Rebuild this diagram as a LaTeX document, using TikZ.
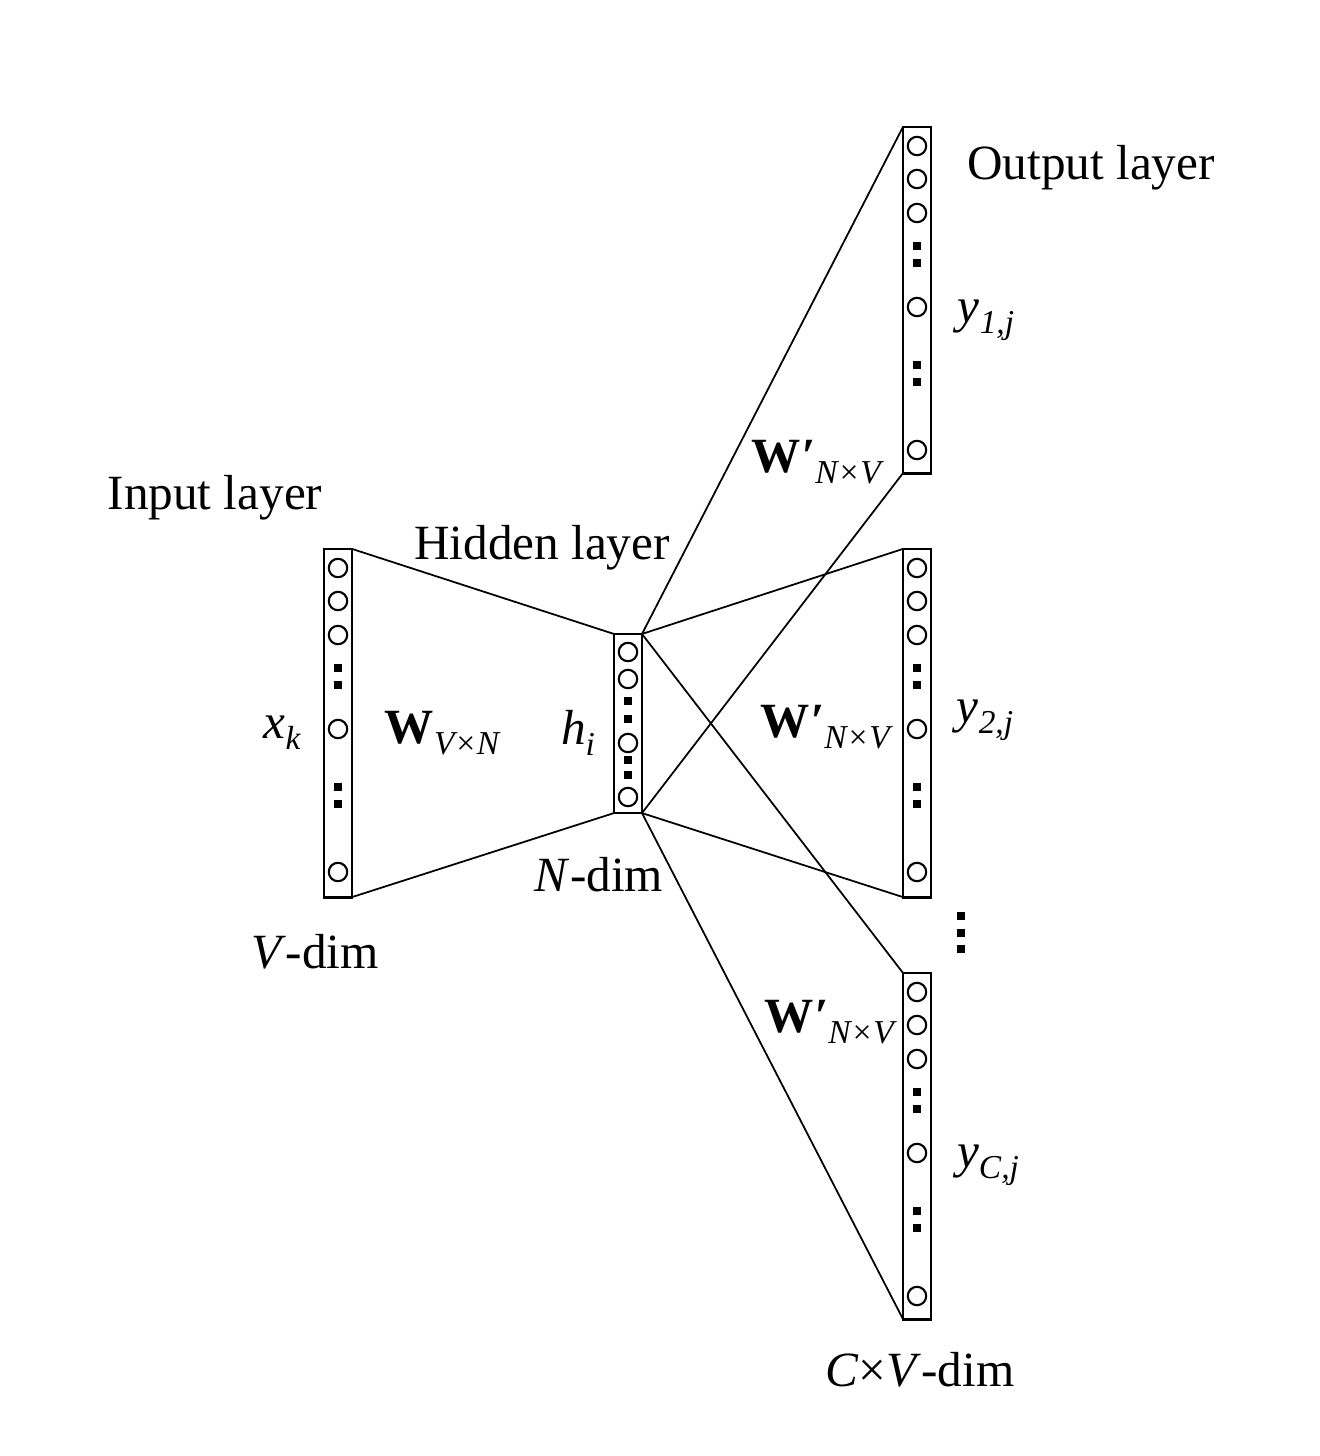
\documentclass[tikz,border=0pt]{standalone}
\usepackage{fontspec}
\setmainfont{Liberation Serif}
\newcommand\lowsub[1]{\raisebox{-0.5ex}{\fontsize{9.5pt}{11pt}\selectfont\itshape #1}}
\newcommand\wprime{\textbf{W\kern0.3pt\textit{′}}}
\begin{document}
\begin{tikzpicture}[x=0.01cm,y=-0.01cm,
  lbox/.style={draw,line width=0.8pt,minimum width=0.28cm,inner sep=0pt,outer sep=0pt},
  conn/.style={line width=0.5pt},
  unit/.style={line width=0.6pt},
  lbl/.style={inner sep=0pt,font=\fontsize{14pt}{17pt}\selectfont}]
\useasboundingbox (0,0) rectangle (1320,1456);
% column contents: x, top
\newcommand\longcol[2]{%
  \foreach \o in {19,52,86,180,323}{\draw[unit] (#1,#2+\o) circle[radius=0.092cm];}
  \foreach \o in {119,136,238,255}{\fill (#1-3.7,#2+\o-3.7) rectangle (#1+3.7,#2+\o+3.7);}
}
% layer boxes
\node[lbox,minimum height=3.48cm] (in) at (338,723) {};
\node[lbox,minimum height=1.79cm] (hid) at (628,723.5) {};
\node[lbox,minimum height=3.46cm] (out1) at (917,300) {};
\node[lbox,minimum height=3.48cm] (out2) at (917,723) {};
\node[lbox,minimum height=3.46cm] (out3) at (917,1146) {};
\longcol{338}{549}
\longcol{917}{127}
\longcol{917}{549}
\longcol{917}{973}
\foreach \o in {18,45,109,163}{\draw[unit] (628,634+\o) circle[radius=0.092cm];}
\foreach \o in {67,85,126,141}{\fill (628-3.7,634+\o-3.7) rectangle (628+3.7,634+\o+3.7);}
% dots between output layers
\foreach \yy in {916,933,949}{\fill (961-4,\yy-4) rectangle (961+4,\yy+4);}
% connectors
\draw[conn] (in.north east) -- (hid.north west);
\draw[conn] (in.south east) -- (hid.south west);
\draw[conn] (hid.north east) -- (out1.north west);
\draw[conn] (hid.north east) -- (out2.north west);
\draw[conn] (hid.north east) -- (out3.north west);
\draw[conn] (hid.south east) -- (out1.south west);
\draw[conn] (hid.south east) -- (out2.south west);
\draw[conn] (hid.south east) -- (out3.south west);
% labels
\node[lbl] (tin) at (215,498) {Input layer};
\node[lbl] (thid) at (542,548) {Hidden layer};
\node[lbl] (tout) at (1091,168) {Output layer};
\node[lbl] (xk) at (282,733) {\textit{x}\lowsub{k}};
\node[lbl] (w) at (442,733) {\textbf{W}\lowsub{V×N}};
\node[lbl] (hi) at (578,733) {\textit{h}\lowsub{i}};
\node[lbl] (ndim) at (599,875) {\textit{N}-dim};
\node[lbl] (vdim) at (315,952) {\textit{V}-dim};
\node[lbl] (w1) at (816,462) {\wprime\lowsub{N×V}};
\node[lbl] (w2) at (825,727) {\wprime\lowsub{N×V}};
\node[lbl] (w3) at (829,1022) {\wprime\lowsub{N×V}};
\node[lbl] (y1) at (986,320) {\textit{y}\lowsub{1,j}};
\node[lbl] (y2) at (985,720) {\textit{y}\lowsub{2,j}};
\node[lbl] (yc) at (988,1165) {\textit{y}\lowsub{C,j}};
\node[lbl] (cvdim) at (920,1370) {\textit{C}×\textit{V}-dim};
\end{tikzpicture}
\end{document}
